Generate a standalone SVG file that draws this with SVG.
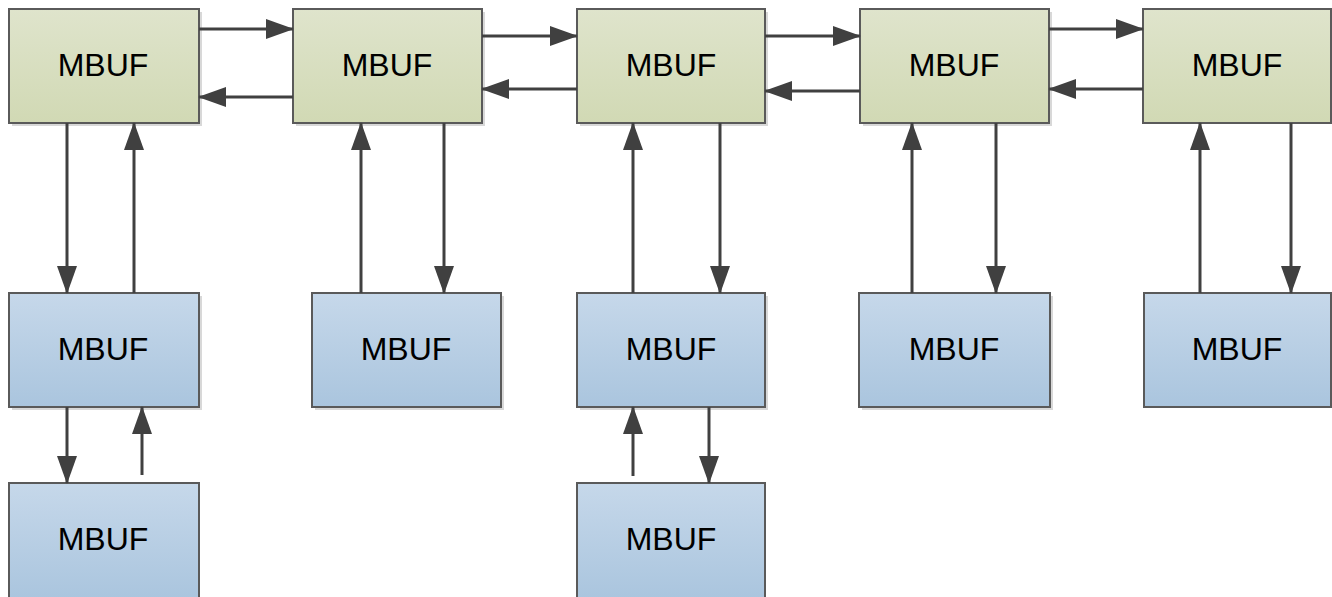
<svg xmlns="http://www.w3.org/2000/svg" width="1332" height="597" viewBox="0 0 1332 597">
  <defs>
    <linearGradient id="gGreen" x1="0" y1="0" x2="0" y2="1">
      <stop offset="0" stop-color="#dfe4cc"/>
      <stop offset="1" stop-color="#d1d9b4"/>
    </linearGradient>
    <linearGradient id="gBlue" x1="0" y1="0" x2="0" y2="1">
      <stop offset="0" stop-color="#c6d8ea"/>
      <stop offset="1" stop-color="#aac5de"/>
    </linearGradient>
    <marker id="arrow" markerUnits="userSpaceOnUse" markerWidth="28" markerHeight="20" refX="27" refY="10" orient="auto">
      <path d="M0,0 L28,10 L0,20 z" fill="#404040"/>
    </marker>
    <style>
      .shadow { fill: #d8d8d8; }
      .green { fill: url(#gGreen); stroke: #5a5a5a; stroke-width: 2; }
      .blue { fill: url(#gBlue); stroke: #5a5a5a; stroke-width: 2; }
      .label { font-family: "Liberation Sans", Arial, sans-serif; font-size: 32px; fill: #000; text-anchor: middle; }
      .link { stroke: #404040; stroke-width: 3; fill: none; marker-end: url(#arrow); }
    </style>
  </defs>

  <!-- main chain -->
  <g id="top1"><rect class="shadow" x="12" y="12" width="190" height="114"/><rect class="green" x="9" y="9" width="190" height="114"/><text class="label" x="103" y="76">MBUF</text></g>
  <g id="top2"><rect class="shadow" x="296" y="12" width="189" height="114"/><rect class="green" x="293" y="9" width="189" height="114"/><text class="label" x="387" y="76">MBUF</text></g>
  <g id="top3"><rect class="shadow" x="580" y="12" width="188" height="114"/><rect class="green" x="577" y="9" width="188" height="114"/><text class="label" x="671" y="76">MBUF</text></g>
  <g id="top4"><rect class="shadow" x="863" y="12" width="189" height="114"/><rect class="green" x="860" y="9" width="189" height="114"/><text class="label" x="954" y="76">MBUF</text></g>
  <g id="top5"><rect class="green" x="1143" y="9" width="188" height="114"/><text class="label" x="1237" y="76">MBUF</text></g>

  <!-- second level -->
  <g id="mid1"><rect class="shadow" x="12" y="296" width="190" height="114"/><rect class="blue" x="9" y="293" width="190" height="114"/><text class="label" x="103" y="360">MBUF</text></g>
  <g id="mid2"><rect class="shadow" x="315" y="296" width="189" height="114"/><rect class="blue" x="312" y="293" width="189" height="114"/><text class="label" x="406" y="360">MBUF</text></g>
  <g id="mid3"><rect class="shadow" x="580" y="296" width="188" height="114"/><rect class="blue" x="577" y="293" width="188" height="114"/><text class="label" x="671" y="360">MBUF</text></g>
  <g id="mid4"><rect class="shadow" x="862" y="296" width="191" height="114"/><rect class="blue" x="859" y="293" width="191" height="114"/><text class="label" x="954" y="360">MBUF</text></g>
  <g id="mid5"><rect class="blue" x="1144" y="293" width="187" height="114"/><text class="label" x="1237" y="360">MBUF</text></g>

  <!-- third level -->
  <g id="bot1"><rect class="blue" x="9" y="483" width="190" height="116"/><text class="label" x="103" y="550">MBUF</text></g>
  <g id="bot3"><rect class="blue" x="577" y="483" width="188" height="116"/><text class="label" x="671" y="550">MBUF</text></g>

  <g id="connectors">
    <!-- horizontal links -->
    <line class="link" x1="199" y1="29" x2="293" y2="29"/>
    <line class="link" x1="293" y1="97" x2="199" y2="97"/>
    <line class="link" x1="482" y1="36" x2="577" y2="36"/>
    <line class="link" x1="577" y1="89" x2="482" y2="89"/>
    <line class="link" x1="765" y1="36" x2="860" y2="36"/>
    <line class="link" x1="860" y1="91" x2="765" y2="91"/>
    <line class="link" x1="1049" y1="29" x2="1143" y2="29"/>
    <line class="link" x1="1143" y1="89" x2="1049" y2="89"/>

    <!-- top to second level -->
    <line class="link" x1="67" y1="123" x2="67" y2="293"/>
    <line class="link" x1="134" y1="293" x2="134" y2="123"/>
    <line class="link" x1="361" y1="293" x2="361" y2="123"/>
    <line class="link" x1="444" y1="123" x2="444" y2="293"/>
    <line class="link" x1="633" y1="293" x2="633" y2="123"/>
    <line class="link" x1="720" y1="123" x2="720" y2="293"/>
    <line class="link" x1="912" y1="293" x2="912" y2="123"/>
    <line class="link" x1="996" y1="123" x2="996" y2="293"/>
    <line class="link" x1="1200" y1="293" x2="1200" y2="123"/>
    <line class="link" x1="1291" y1="123" x2="1291" y2="293"/>

    <!-- second to third level -->
    <line class="link" x1="67" y1="407" x2="67" y2="483"/>
    <line class="link" x1="142" y1="475" x2="142" y2="407"/>
    <line class="link" x1="633" y1="476" x2="633" y2="407"/>
    <line class="link" x1="709" y1="407" x2="709" y2="483"/>
  </g>
</svg>
